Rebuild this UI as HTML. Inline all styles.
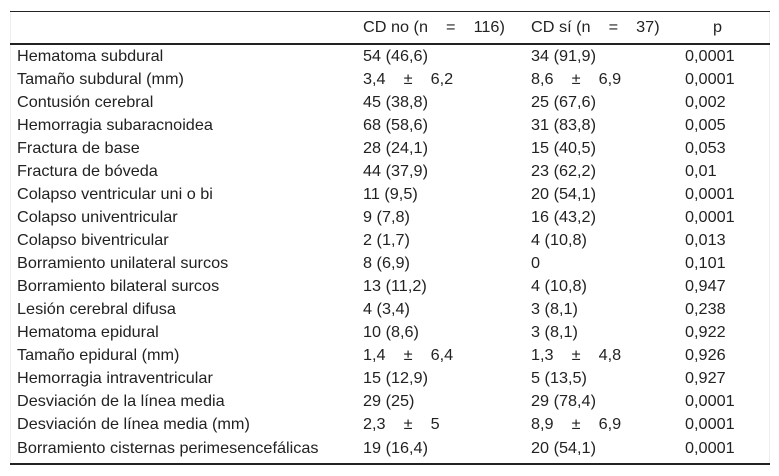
<!DOCTYPE html>
<html><head><meta charset="utf-8">
<style>
body{margin:0;width:779px;height:476px;background:#fff;font-family:"Liberation Sans",Arial,sans-serif;font-size:16px;color:#222;position:relative;overflow:hidden}
.line{position:absolute;left:10px;width:760px;background:#222}
.t{position:absolute;white-space:pre;line-height:16px;transform:scaleX(1.015);transform-origin:left center}
.side{position:absolute;top:11px;height:454px;width:1px;background:#eee}
</style></head><body>
<div class="side" style="left:10px"></div>
<div class="side" style="left:769px"></div>
<div class="line" style="top:11px;height:1px"></div>
<div class="line" style="top:43px;height:2px"></div>
<div class="line" style="top:463px;height:2px"></div>
<div class="t" style="left:363px;top:20px">CD no (n    =    116)</div>
<div class="t" style="left:531px;top:20px">CD sí (n    =    37)</div>
<div class="t" style="left:713px;top:20px">p</div>
<div id="rows"></div>
<script>
const labels=["Hematoma subdural","Tamaño subdural (mm)","Contusión cerebral","Hemorragia subaracnoidea","Fractura de base","Fractura de bóveda","Colapso ventricular uni o bi","Colapso univentricular","Colapso biventricular","Borramiento unilateral surcos","Borramiento bilateral surcos","Lesión cerebral difusa","Hematoma epidural","Tamaño epidural (mm)","Hemorragia intraventricular","Desviación de la línea media","Desviación de línea media (mm)","Borramiento cisternas perimesencefálicas"];
const cdNo=["54 (46,6)","3,4    ±    6,2","45 (38,8)","68 (58,6)","28 (24,1)","44 (37,9)","11 (9,5)","9 (7,8)","2 (1,7)","8 (6,9)","13 (11,2)","4 (3,4)","10 (8,6)","1,4    ±    6,4","15 (12,9)","29 (25)","2,3    ±    5","19 (16,4)"];
const cdSi=["34 (91,9)","8,6    ±    6,9","25 (67,6)","31 (83,8)","15 (40,5)","23 (62,2)","20 (54,1)","16 (43,2)","4 (10,8)","0","4 (10,8)","3 (8,1)","3 (8,1)","1,3    ±    4,8","5 (13,5)","29 (78,4)","8,9    ±    6,9","20 (54,1)"];
const pVals=["0,0001","0,0001","0,002","0,005","0,053","0,01","0,0001","0,0001","0,013","0,101","0,947","0,238","0,922","0,926","0,927","0,0001","0,0001","0,0001"];
const root=document.getElementById('rows');
const cols=[[17,labels,'row-label'],[363,cdNo,'cd-no-value'],[531,cdSi,'cd-si-value'],[685,pVals,'p-value']];
labels.forEach((_,i)=>{
  const y=48.5+i*23.06;
  cols.forEach(([x,arr,name])=>{
    const d=document.createElement('div');
    d.className='t';
    d.style.left=x+'px';d.style.top=y+'px';
    d.textContent=arr[i];
    
    
    root.appendChild(d);
  });
});
</script>
</body></html>
